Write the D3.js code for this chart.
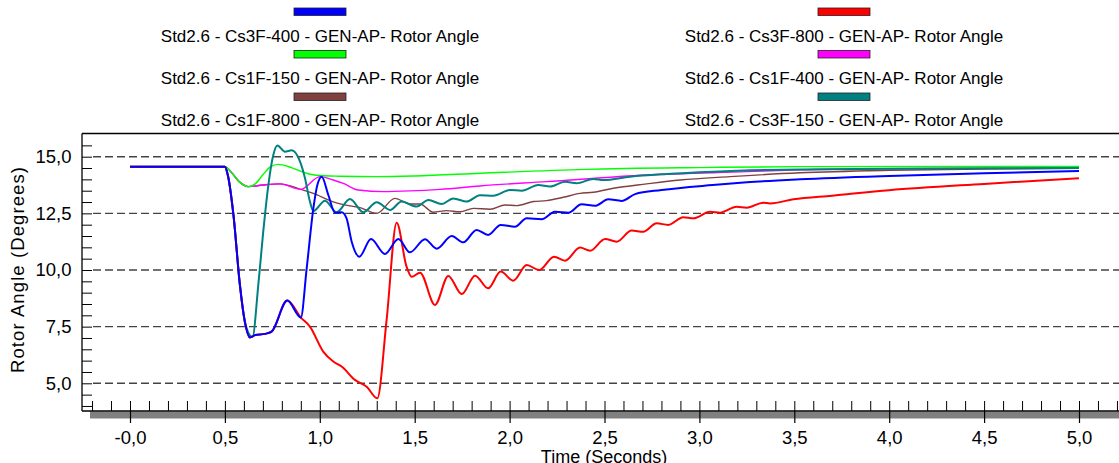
<!DOCTYPE html>
<html>
<head>
<meta charset="utf-8">
<script src="https://cdn.jsdelivr.net/npm/d3@7"></script>
<style>
body { margin: 0; background: #fff; }
text { font-family: "Liberation Sans", Arial, sans-serif; fill: #000; }
</style>
</head>
<body>
<script>
var width = 1119;
var height = 463;

// legend order: left column then right column
var seriesNames = [
    "Std2.6 - Cs3F-400 - GEN-AP- Rotor Angle",
    "Std2.6 - Cs1F-150 - GEN-AP- Rotor Angle",
    "Std2.6 - Cs1F-800 - GEN-AP- Rotor Angle",
    "Std2.6 - Cs3F-800 - GEN-AP- Rotor Angle",
    "Std2.6 - Cs1F-400 - GEN-AP- Rotor Angle",
    "Std2.6 - Cs3F-150 - GEN-AP- Rotor Angle"
];
var seriesColors = ["#0000ff", "#00ff00", "#804040", "#ff0000", "#ff00ff", "#008080"];

var xTickValues = [0, 0.5, 1, 1.5, 2, 2.5, 3, 3.5, 4, 4.5, 5];
var xTickLabels = ["-0,0", "0,5", "1,0", "1,5", "2,0", "2,5", "3,0", "3,5", "4,0", "4,5", "5,0"];
var yTickValues = [5, 7.5, 10, 12.5, 15];
var yTickLabels = ["5,0", "7,5", "10,0", "12,5", "15,0"];

// [time (s), rotor angle (deg)]
var cs3f400 = [[0,14.56],[0.5,14.56],[0.515,14.2],[0.545,12.43],[0.579,9.34],[0.605,7.72],[0.632,7.02],[0.66,7.13],[0.711,7.18],[0.746,7.28],[0.829,8.65],[0.9,7.9],[0.931,10.08],[0.966,12.72],[0.987,13.75],[1.01,14.12],[1.045,13.31],[1.08,12.53],[1.115,12.55],[1.141,12.28],[1.168,11.25],[1.208,10.59],[1.27,11.37],[1.343,10.71],[1.414,11.37],[1.475,10.78],[1.554,11.36],[1.616,10.94],[1.695,11.5],[1.756,11.22],[1.826,11.77],[1.887,11.55],[1.953,11.99],[2.028,11.91],[2.09,12.28],[2.169,12.24],[2.239,12.57],[2.31,12.53],[2.379,12.9],[2.45,12.83],[2.52,13.12],[2.59,13.05],[2.661,13.35],[2.8,13.53],[3.07,13.75],[3.25,13.87],[3.53,14.0],[4.0,14.15],[4.5,14.27],[5.0,14.37]];

var cs3f800 = [[0,14.56],[0.5,14.56],[0.515,14.2],[0.545,12.43],[0.579,9.34],[0.605,7.72],[0.632,7.02],[0.66,7.13],[0.711,7.18],[0.746,7.28],[0.829,8.65],[0.9,7.9],[0.948,7.5],[1.018,6.4],[1.071,5.96],[1.115,5.74],[1.185,5.15],[1.247,4.85],[1.303,4.34],[1.352,7.8],[1.405,12.09],[1.457,10.15],[1.484,9.7],[1.528,9.88],[1.607,8.46],[1.677,9.74],[1.748,8.94],[1.818,9.75],[1.887,9.19],[1.953,9.93],[2.02,9.53],[2.09,10.22],[2.156,10.0],[2.234,10.59],[2.292,10.41],[2.371,10.99],[2.424,10.85],[2.503,11.37],[2.564,11.25],[2.643,11.74],[2.704,11.69],[2.775,12.06],[2.836,11.99],[2.915,12.33],[2.968,12.28],[3.056,12.57],[3.109,12.53],[3.196,12.79],[3.249,12.75],[3.337,12.97],[3.372,12.94],[3.495,13.12],[3.7,13.28],[4.0,13.52],[4.5,13.8],[5.0,14.05]];

var cs3f150 = [[0,14.56],[0.5,14.56],[0.515,14.2],[0.545,12.43],[0.579,9.34],[0.605,7.72],[0.645,7.04],[0.676,9.34],[0.702,11.69],[0.729,13.75],[0.755,15.07],[0.776,15.49],[0.817,15.22],[0.852,15.28],[0.896,14.78],[0.922,14.05],[0.948,13.02],[0.966,12.6],[1.027,13.06],[1.089,12.55],[1.159,13.13],[1.229,12.55],[1.3,12.99],[1.37,12.65],[1.431,13.02],[1.51,12.8],[1.572,13.09],[1.642,12.91],[1.703,13.16],[1.774,13.02],[1.844,13.3],[1.914,13.28],[2.002,13.53],[2.064,13.5],[2.151,13.75],[2.213,13.68],[2.292,13.9],[2.353,13.83],[2.441,14.02],[2.494,13.97],[2.634,14.12],[2.828,14.24],[3.073,14.34],[3.53,14.44],[4.0,14.47],[5.0,14.5]];

var cs1f150 = [[0,14.56],[0.5,14.56],[0.53,14.35],[0.575,13.9],[0.622,13.68],[0.66,13.8],[0.7,14.2],[0.74,14.55],[0.78,14.66],[0.85,14.52],[0.92,14.3],[0.98,14.18],[1.1,14.14],[1.3,14.12],[1.5,14.15],[1.85,14.27],[2.4,14.44],[3.0,14.52],[3.5,14.56],[5.0,14.57]];

var cs1f400 = [[0,14.56],[0.5,14.56],[0.53,14.35],[0.575,13.9],[0.622,13.68],[0.7,13.75],[0.79,13.8],[0.9,13.56],[1.0,14.12],[1.071,13.97],[1.124,13.82],[1.203,13.53],[1.334,13.46],[1.475,13.49],[1.633,13.56],[1.844,13.71],[2.195,13.9],[2.72,14.19],[3.25,14.34],[3.53,14.42],[4.0,14.47],[5.0,14.5]];

var cs1f800 = [[0,14.56],[0.5,14.56],[0.53,14.35],[0.575,13.9],[0.622,13.68],[0.7,13.75],[0.79,13.8],[0.9,13.56],[0.966,13.38],[1.071,13.01],[1.159,12.83],[1.212,12.75],[1.3,12.5],[1.396,13.16],[1.475,12.91],[1.528,12.91],[1.598,12.55],[1.668,12.62],[1.739,12.57],[1.809,12.72],[1.897,12.68],[1.976,12.87],[2.037,12.84],[2.125,13.02],[2.195,13.06],[2.283,13.21],[2.371,13.38],[2.441,13.43],[2.547,13.61],[2.722,13.8],[2.898,13.97],[3.161,14.12],[3.53,14.29],[4.0,14.4],[4.5,14.46],[5.0,14.49]];

// same order as seriesNames
var seriesData = [cs3f400, cs1f150, cs1f800, cs3f800, cs1f400, cs3f150];
// draw order (last on top)
var drawOrder = [2, 4, 1, 5, 3, 0];

var plotLeft = 82, plotTop = 133.5, plotBottom = 411;

var x = d3.scaleLinear().domain([0, 5]).range([130, 1079]);
var y = d3.scaleLinear().domain([5, 15]).range([383.3, 156.7]);

var svg = d3.select("body").append("svg")
    .attr("width", width)
    .attr("height", height);

svg.append("clipPath").attr("id", "plotClip")
    .append("rect")
    .attr("x", plotLeft).attr("y", plotTop)
    .attr("width", width - plotLeft).attr("height", plotBottom - plotTop);

//legend
var legend = svg.append("g");
seriesNames.forEach(function(name, i) {
    var col = Math.floor(i / 3), row = i % 3;
    var cx = col == 0 ? 320 : 844;
    legend.append("rect")
        .attr("x", cx - 26).attr("y", 8 + row * 42.5)
        .attr("width", 52).attr("height", 7.5)
        .attr("fill", seriesColors[i])
        .attr("stroke", "#222").attr("stroke-width", 0.8);
    legend.append("text")
        .attr("x", cx).attr("y", 41.5 + row * 42.3)
        .attr("text-anchor", "middle")
        .style("font-size", "17px")
        .text(name);
});

//dashed grid
svg.append("g").selectAll("line")
    .data(yTickValues)
    .enter().append("line")
    .attr("x1", 93).attr("x2", width)
    .attr("y1", function(d) { return y(d); })
    .attr("y2", function(d) { return y(d); })
    .attr("stroke", "#444")
    .attr("stroke-width", 1.4)
    .attr("stroke-dasharray", "8,4");

//gray band under the time axis
svg.append("rect")
    .attr("x", 90).attr("y", plotBottom + 0.5)
    .attr("width", width - 90).attr("height", 7)
    .attr("fill", "#808080");

//minor x ticks (every 0.1 s), pointing up
var xMinor = svg.append("g")
    .attr("transform", "translate(0," + plotBottom + ")")
    .call(d3.axisTop(x).tickValues(d3.range(-2, 53).map(function(k) { return k / 10; }))
        .tickSize(10).tickFormat(""));
xMinor.select(".domain").remove();
xMinor.selectAll("line").attr("stroke", "#000").attr("stroke-width", 1);

//major x ticks with labels
var xMajor = svg.append("g")
    .attr("transform", "translate(0," + plotBottom + ")")
    .call(d3.axisBottom(x).tickValues(xTickValues)
        .tickSize(12).tickPadding(8)
        .tickFormat(function(d, i) { return xTickLabels[i]; }));
xMajor.select(".domain").remove();
xMajor.selectAll("line").attr("stroke", "#000").attr("stroke-width", 1.2);
xMajor.selectAll("text")
    .style("font-size", "18.5px")
    .style("font-family", "'Liberation Sans', Arial, sans-serif")
    .attr("fill", "#000");

//y ticks (every 0.5 deg), pointing right into the plot
var yMinor = svg.append("g")
    .attr("transform", "translate(" + plotLeft + ",0)")
    .call(d3.axisRight(y).tickValues(d3.range(8, 32).map(function(k) { return k / 2; }))
        .tickSize(10).tickFormat(""));
yMinor.select(".domain").remove();
yMinor.selectAll("line").attr("stroke", "#000").attr("stroke-width", 1);

//y labels
var yLab = svg.append("g")
    .attr("transform", "translate(" + plotLeft + ",0)")
    .call(d3.axisLeft(y).tickValues(yTickValues)
        .tickSize(0).tickPadding(10.5)
        .tickFormat(function(d, i) { return yTickLabels[i]; }));
yLab.select(".domain").remove();
yLab.selectAll("text")
    .style("font-size", "18.5px")
    .style("font-family", "'Liberation Sans', Arial, sans-serif")
    .attr("fill", "#000");

//frame
svg.append("line").attr("x1", plotLeft).attr("x2", width).attr("y1", plotTop).attr("y2", plotTop)
    .attr("stroke", "#000").attr("stroke-width", 1.3);//top
svg.append("line").attr("x1", plotLeft).attr("x2", plotLeft).attr("y1", plotTop).attr("y2", plotBottom)
    .attr("stroke", "#000").attr("stroke-width", 1.3);//left
svg.append("line").attr("x1", plotLeft).attr("x2", width).attr("y1", plotBottom).attr("y2", plotBottom)
    .attr("stroke", "#000").attr("stroke-width", 1.3);//bottom

//series
var line = d3.line()
    .x(function(d) { return x(d[0]); })
    .y(function(d) { return y(d[1]); })
    .curve(d3.curveMonotoneX);

var lines = svg.append("g").attr("clip-path", "url(#plotClip)");
drawOrder.forEach(function(i) {
    lines.append("path")
        .datum(seriesData[i])
        .attr("d", line)
        .attr("fill", "none")
        .attr("stroke", seriesColors[i])
        .attr("stroke-width", (i == 0 || i == 3 || i == 5) ? 2 : 1.4)
        .attr("stroke-linejoin", "round");
});

//axis titles
svg.append("text")
    .attr("transform", "translate(24,270) rotate(-90)")
    .attr("text-anchor", "middle")
    .attr("textLength", 206)
    .attr("lengthAdjust", "spacing")
    .style("font-size", "18.5px")
    .text("Rotor Angle (Degrees)");

svg.append("text")
    .attr("x", 604).attr("y", 463)
    .attr("text-anchor", "middle")
    .style("font-size", "18px")
    .text("Time (Seconds)");
</script>
</body>
</html>
